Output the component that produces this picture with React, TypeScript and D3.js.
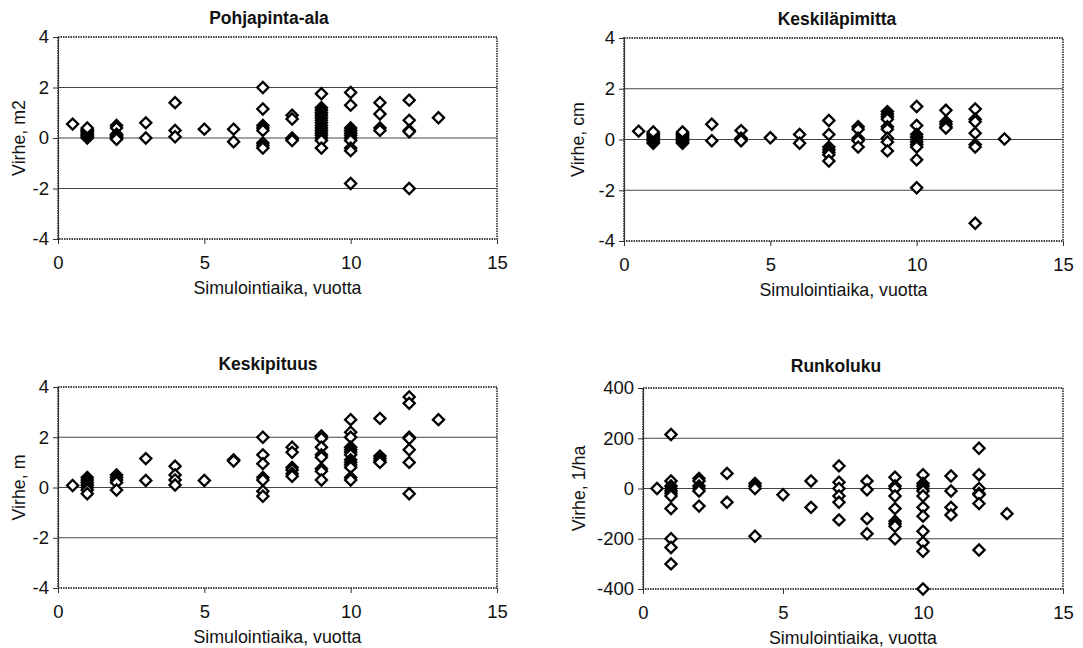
import { useEffect, useRef } from 'react';
import * as d3 from 'd3';

type Pt = [number, number];

// Simulointiaika (x) vs. virhe (y)
const basalArea: Pt[] = [
	[0.5, 0.55],
	[1, 0], [1, 0.05], [1, 0.1], [1, 0.15], [1, 0.2], [1, 0.25], [1, 0.3], [1, 0.35], [1, 0.4],
	[2, 0.5], [2, 0.4], [2, 0.15], [2, 0.1], [2, 0.05], [2, 0], [2, -0.05],
	[3, 0.6], [3, 0],
	[4, 1.4], [4, 0.3], [4, 0.05],
	[5, 0.35],
	[6, 0.35], [6, -0.15],
	[7, 2.0], [7, 1.15], [7, 0.5], [7, 0.4], [7, 0.3], [7, -0.2], [7, -0.3], [7, -0.4],
	[8, 0.9], [8, 0.75], [8, 0], [8, -0.05], [8, -0.1],
	[9, 1.75], [9, 1.2], [9, 1.1], [9, 1.0], [9, 0.9], [9, 0.8], [9, 0.7], [9, 0.6], [9, 0.5],
	[9, 0.4], [9, 0.3], [9, 0.2], [9, 0.1], [9, 0], [9, -0.1], [9, -0.4],
	[10, 1.8], [10, 1.3], [10, 0.4], [10, 0.3], [10, 0.2], [10, 0.1], [10, 0], [10, -0.1],
	[10, -0.4], [10, -0.5], [10, -1.8],
	[11, 1.4], [11, 0.95], [11, 0.4], [11, 0.3],
	[12, 1.5], [12, 0.7], [12, 0.3], [12, 0.25], [12, -2.0],
	[13, 0.8],
];

const diameter: Pt[] = [
	[0.5, 0.33],
	[1, -0.15], [1, -0.1], [1, -0.05], [1, 0], [1, 0.05], [1, 0.1], [1, 0.15], [1, 0.2], [1, 0.25], [1, 0.3],
	[2, -0.15], [2, -0.1], [2, -0.05], [2, 0], [2, 0.05], [2, 0.1], [2, 0.15], [2, 0.2], [2, 0.25], [2, 0.3],
	[3, 0.6], [3, -0.05],
	[4, 0.35], [4, 0.05], [4, 0], [4, -0.05],
	[5, 0.07],
	[6, 0.2], [6, -0.15],
	[7, 0.75], [7, 0.2], [7, -0.3], [7, -0.4], [7, -0.5], [7, -0.6], [7, -0.85],
	[8, 0.5], [8, 0.4], [8, 0.05], [8, -0.05], [8, -0.3],
	[9, 1.1], [9, 1.0], [9, 0.9], [9, 0.8], [9, 0.5], [9, 0.4], [9, 0.05], [9, -0.1], [9, -0.45],
	[10, 1.3], [10, 0.55], [10, 0.2], [10, 0.1], [10, 0], [10, -0.1], [10, -0.2], [10, -0.3],
	[10, -0.8], [10, -1.9],
	[11, 1.15], [11, 0.7], [11, 0.6], [11, 0.5], [11, 0.45],
	[12, 1.2], [12, 0.8], [12, 0.7], [12, 0.25], [12, -0.2], [12, -0.3], [12, -3.3],
	[13, 0.02],
];

const height: Pt[] = [
	[0.5, 0.08],
	[1, 0.4], [1, 0.3], [1, 0.2], [1, 0.1], [1, 0], [1, -0.1], [1, -0.25],
	[2, 0.5], [2, 0.4], [2, 0.3], [2, 0.2], [2, -0.1],
	[3, 1.15], [3, 0.28],
	[4, 0.85], [4, 0.5], [4, 0.3], [4, 0.1],
	[5, 0.28],
	[6, 1.1], [6, 1.05],
	[7, 2.0], [7, 1.3], [7, 0.95], [7, 0.4], [7, 0.3], [7, -0.15], [7, -0.35],
	[8, 1.6], [8, 1.4], [8, 0.8], [8, 0.7], [8, 0.55], [8, 0.45],
	[9, 2.05], [9, 1.95], [9, 1.6], [9, 1.3], [9, 1.2], [9, 0.75], [9, 0.65], [9, 0.3],
	[10, 2.7], [10, 2.2], [10, 2.0], [10, 1.6], [10, 1.5], [10, 1.4], [10, 1.3], [10, 1.1],
	[10, 1.0], [10, 0.9], [10, 0.8], [10, 0.4], [10, 0.3],
	[11, 2.75], [11, 1.25], [11, 1.15], [11, 1.05], [11, 1.0],
	[12, 3.6], [12, 3.35], [12, 2.0], [12, 1.95], [12, 1.5], [12, 1.0], [12, -0.25],
	[13, 2.7],
];

const stemCount: Pt[] = [
	[0.5, 0],
	[1, 215], [1, 30], [1, 10], [1, 0], [1, -10], [1, -20], [1, -30], [1, -80], [1, -200], [1, -235], [1, -300],
	[2, 40], [2, 30], [2, 10], [2, 0], [2, -10], [2, -70],
	[3, 60], [3, -55],
	[4, 20], [4, 10], [4, 0], [4, -190],
	[5, -25],
	[6, 30], [6, -75],
	[7, 90], [7, 25], [7, 0], [7, -30], [7, -55], [7, -125],
	[8, 30], [8, -5], [8, -120], [8, -180],
	[9, 45], [9, 10], [9, 0], [9, -30], [9, -80], [9, -130], [9, -140], [9, -150], [9, -200],
	[10, 55], [10, 20], [10, 10], [10, 0], [10, -10], [10, -30], [10, -75], [10, -110],
	[10, -170], [10, -215], [10, -250], [10, -400],
	[11, 50], [11, -10], [11, -75], [11, -105],
	[12, 160], [12, 55], [12, 0], [12, -20], [12, -25], [12, -60], [12, -245],
	[13, -100],
];

const titles = ['Pohjapinta-ala', 'Keskiläpimitta', 'Keskipituus', 'Runkoluku'];
const yLabels = ['Virhe, m2', 'Virhe, cm', 'Virhe, m', 'Virhe, 1/ha'];
const yTicksSmall = [-4, -2, 0, 2, 4];
const yTicksCount = [-400, -200, 0, 200, 400];
const xTicks = [0, 5, 10, 15];
const xLabel = 'Simulointiaika, vuotta';

const panels = [
	{ data: basalArea, ticks: yTicksSmall, left: 58, right: 497, top: 37, bottom: 239, titleX: 269, titleY: 24, yLabelX: 25 },
	{ data: diameter, ticks: yTicksSmall, left: 624, right: 1063, top: 38, bottom: 241, titleX: 837, titleY: 25, yLabelX: 584 },
	{ data: height, ticks: yTicksSmall, left: 58, right: 497, top: 387, bottom: 588, titleX: 268, titleY: 370, yLabelX: 25 },
	{ data: stemCount, ticks: yTicksCount, left: 643, right: 1063, top: 388, bottom: 589, titleX: 836, titleY: 372, yLabelX: 585 },
];

const FONT = 'Arial, "Liberation Sans", sans-serif';
const fmt = (d: d3.NumberValue) => String(d); // plain hyphen minus, like Excel

export default function App() {
	const ref = useRef<SVGSVGElement>(null);

	useEffect(() => {
		if (!ref.current) return;
		const svg = d3.select(ref.current);
		svg.selectAll('*').remove();

		svg.append('rect').attr('width', 1083).attr('height', 648).attr('fill', '#fff');

		const diamond = d3.symbol().type(d3.symbolSquare).size(62);

		panels.forEach((p, i) => {
			const x = d3.scaleLinear().domain([0, 15]).range([p.left, p.right]);
			const yMin = p.ticks[0];
			const yMax = p.ticks[p.ticks.length - 1];
			const y = d3.scaleLinear().domain([yMin, yMax]).range([p.bottom, p.top]);
			const g = svg.append('g');

			// grid lines
			g.selectAll('line.grid')
				.data(p.ticks.slice(1, -1))
				.join('line')
				.attr('x1', p.left)
				.attr('x2', p.right)
				.attr('y1', (d) => y(d))
				.attr('y2', (d) => y(d))
				.attr('stroke', '#444')
				.attr('stroke-width', 1);

			// plot area border
			g.append('rect')
				.attr('x', p.left)
				.attr('y', p.top)
				.attr('width', p.right - p.left)
				.attr('height', p.bottom - p.top)
				.attr('fill', 'none')
				.attr('stroke', '#444')
				.attr('stroke-width', 1.8)
				.attr('stroke-dasharray', '1.5,1');

			// y axis
			const yAxis = d3.axisLeft(y).tickValues(p.ticks).tickSize(5).tickPadding(4).tickFormat(fmt);
			const ya = g.append('g').attr('transform', `translate(${p.left},0)`).call(yAxis);
			ya.attr('font-size', null).attr('font-family', null);
			ya.select('.domain').attr('stroke', '#333').attr('stroke-width', 1.2);
			ya.selectAll('.tick line').attr('stroke', '#333');
			ya.selectAll('text')
				.attr('font-family', FONT)
				.attr('font-size', 18.5)
				.attr('fill', '#111');

			// x axis
			const xAxis = d3.axisBottom(x).tickValues(xTicks).tickSize(5).tickPadding(12).tickFormat(fmt);
			const xa = g.append('g').attr('transform', `translate(0,${p.bottom})`).call(xAxis);
			xa.attr('font-size', null).attr('font-family', null);
			xa.select('.domain').remove();
			xa.selectAll('.tick line').attr('stroke', '#333');
			xa.selectAll('text').attr('font-family', FONT).attr('font-size', 18.5).attr('fill', '#111');

			// titles and labels
			g.append('text')
				.attr('x', p.titleX)
				.attr('y', p.titleY)
				.attr('text-anchor', 'middle')
				.attr('font-family', FONT)
				.attr('font-weight', 'bold')
				.attr('font-size', 17.5)
				.attr('fill', '#111')
				.text(titles[i]);

			g.append('text')
				.attr('x', (p.left + p.right) / 2)
				.attr('y', p.bottom + 55)
				.attr('text-anchor', 'middle')
				.attr('font-family', FONT)
				.attr('font-size', 17.8)
				.attr('fill', '#111')
				.text(xLabel);

			g.append('text')
				.attr('transform', `translate(${p.yLabelX},${(p.top + p.bottom) / 2}) rotate(-90)`)
				.attr('text-anchor', 'middle')
				.attr('font-family', FONT)
				.attr('font-size', 17.8)
				.attr('fill', '#111')
				.text(yLabels[i]);

			// points
			g.selectAll('path.pt')
				.data(p.data)
				.join('path')
				.attr('class', 'pt')
				.attr('d', diamond)
				.attr('transform', (d) => `translate(${x(d[0])},${y(d[1])}) rotate(45)`)
				.attr('fill', '#fff')
				.attr('stroke', '#000')
				.attr('stroke-width', 2.3);
		});
	}, []);

	return (
		<svg
			ref={ref}
			width={1083}
			height={648}
			style={{ position: 'absolute', left: 0, top: 0, display: 'block' }}
		></svg>
	);
}
